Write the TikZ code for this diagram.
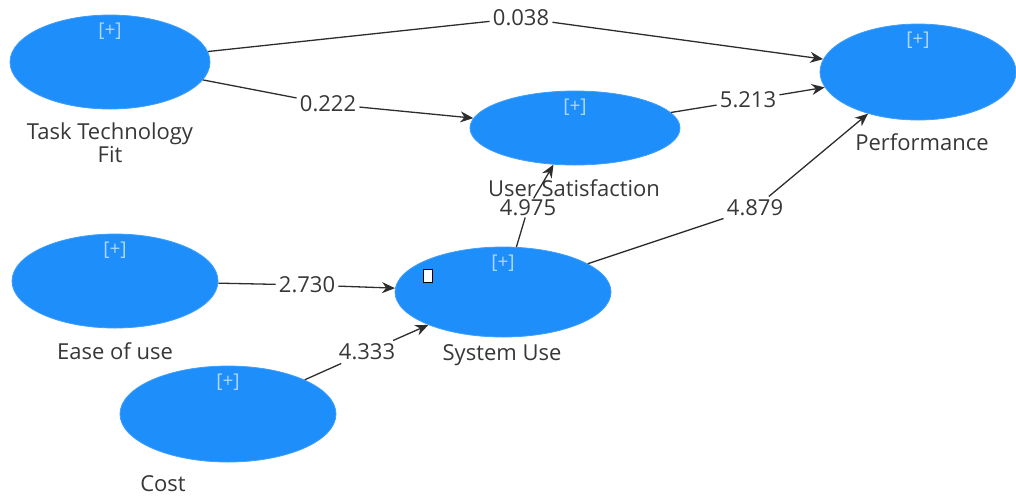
\documentclass[tikz,border=0pt]{standalone}
\usepackage{fontspec}
\setmainfont{Open Sans}
\usepackage{tikz}
\usetikzlibrary{shapes.geometric, arrows.meta, positioning}
\definecolor{lvblue}{RGB}{30,142,250}
\definecolor{lvtext}{RGB}{55,55,55}
\definecolor{lvline}{RGB}{45,45,45}
\definecolor{lvplus}{RGB}{175,215,255}
\tikzstyle{construct} = [ellipse, draw=lvblue!85!white, fill=lvblue, inner sep=0pt]
\tikzstyle{plustag} = [anchor=north, inner sep=0pt, text=lvplus, font=\fontsize{9.5}{10}\selectfont]
\tikzstyle{conname} = [text=lvtext, align=center, inner sep=0pt, font=\fontsize{11}{11.5}\selectfont]
\tikzstyle{coef} = [fill=white, text=lvtext, inner sep=1.5pt, font=\fontsize{11}{12}\selectfont]
\tikzstyle{link} = [draw=lvline, line width=0.65pt]
\tikzstyle{arrow} = [link, -{Stealth[length=6.5pt, width=5.5pt]}]

\begin{document}
\begin{tikzpicture}[x=0.5pt, y=-0.5pt]
\useasboundingbox (0,0) rectangle (1016,495);

% constructs
\node (ttf) [construct, minimum width=100pt, minimum height=47pt] at (110,62) {};
\node (us) [construct, minimum width=105pt, minimum height=37pt] at (575,128) {};
\node (perf) [construct, minimum width=98pt, minimum height=48pt] at (918,72) {};
\node (eou) [construct, minimum width=103pt, minimum height=47pt] at (115,281) {};
\node (su) [construct, minimum width=108pt, minimum height=45pt] at (503,292) {};
\node (cost) [construct, minimum width=108pt, minimum height=48pt] at (228,414) {};

\foreach \c in {ttf, us, perf, eou, su, cost}
  \node [plustag, yshift=-4pt] at (\c.north) {[+]};

% construct names
\node (ttfname) [conname] at (110,143) {Task Technology\\Fit};
\node (usname) [conname] at (574,188) {User Satisfaction};
\node (perfname) [conname] at (922,142) {Performance};
\node (eouname) [conname] at (115,351) {Ease of use};
\node (suname) [conname] at (502,355) {System Use};
\node (costname) [conname] at (163,484) {Cost};

% path coefficients
\node (w038) [coef] at (521,18) {0.038};
\node (w222) [coef] at (328,104) {0.222};
\node (w5213) [coef] at (748,100) {5.213};
\node (w2730) [coef] at (307,285) {2.730};
\node (w4333) [coef] at (367,352) {4.333};
\node (w4975) [coef, inner sep=0.5pt] at (528,208) {4.975};
\node (w4879) [coef] at (755,208) {4.879};

\draw [link] (ttf) -- (w038);
\draw [arrow] (w038) -- (perf);
\draw [link] (ttf) -- (w222);
\draw [arrow] (w222) -- (us);
\draw [link] (us) -- (w5213);
\draw [arrow] (w5213) -- (perf);
\draw [link] (eou) -- (w2730);
\draw [arrow] (w2730) -- (su);
\draw [link] (cost) -- (w4333);
\draw [arrow] (w4333) -- (su);
\draw [link] (su) -- (w4975);
\draw [arrow] (w4975) -- (us);
\draw [link] (su) -- (w4879);
\draw [arrow] (w4879) -- (perf);

% cursor mark
\node (cursor) [draw=black, fill=white, line width=0.6pt, minimum width=4.5pt, minimum height=6.5pt, inner sep=0pt] at (428,276) {};

\end{tikzpicture}
\end{document}
